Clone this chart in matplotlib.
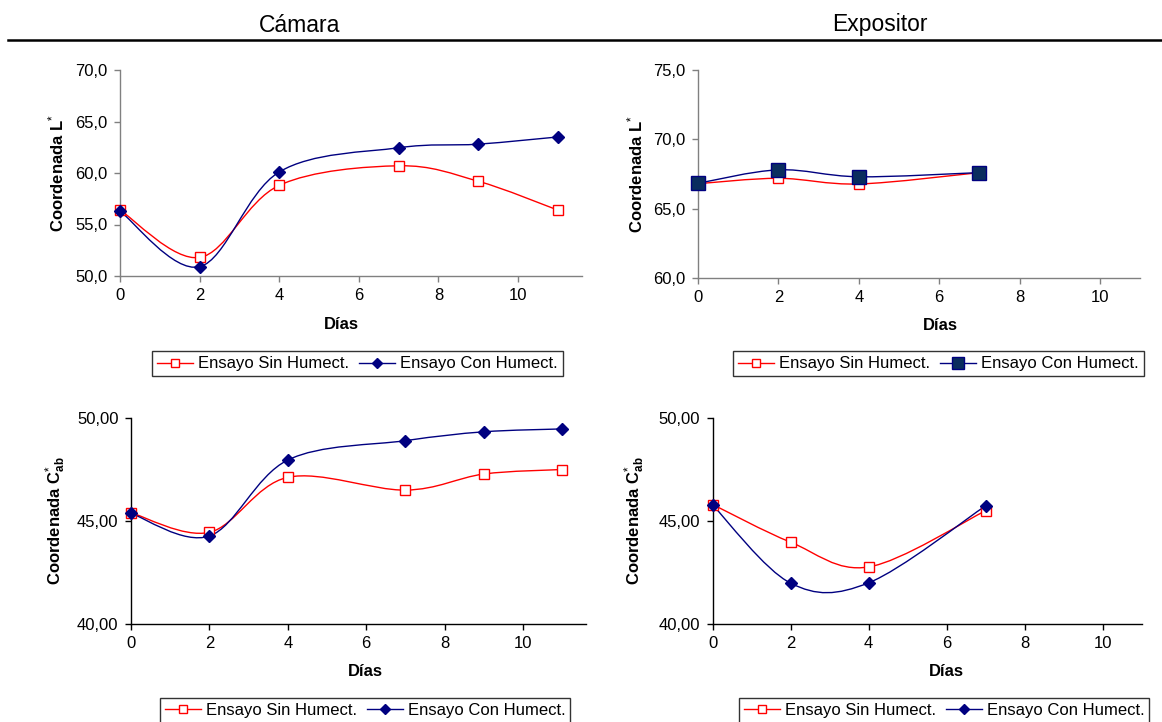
import matplotlib
matplotlib.use("Agg")
import matplotlib.pyplot as plt
from matplotlib.path import Path
from matplotlib.patches import PathPatch
from matplotlib.lines import Line2D
import numpy as np

plt.rcParams['font.family'] = ['Liberation Sans', 'DejaVu Sans']
plt.rcParams['mathtext.fontset'] = 'custom'
plt.rcParams['mathtext.rm'] = 'Liberation Sans'
plt.rcParams['mathtext.bf'] = 'Liberation Sans:bold'
plt.rcParams['mathtext.it'] = 'Liberation Sans:italic'

# ---- data ----
camara_dias = [0, 2, 4, 7, 9, 11]
camara_L_sin = [56.4, 51.8, 58.8, 60.7, 59.2, 56.4]
camara_L_con = [56.3, 50.9, 60.1, 62.45, 62.8, 63.5]
camara_C_sin = [45.4, 44.45, 47.12, 46.5, 47.28, 47.5]
camara_C_con = [45.37, 44.27, 47.96, 48.9, 49.33, 49.47]

expo_dias = [0, 2, 4, 7]
expo_L_sin = [66.8, 67.19, 66.78, 67.6]
expo_L_con = [66.83, 67.8, 67.3, 67.6]
expo_C_sin = [45.8, 43.97, 42.77, 45.5]
expo_C_con = [45.77, 41.98, 42.0, 45.74]

titles = ["Cámara", "Expositor"]
legend_labels = ["Ensayo Sin Humect.", "Ensayo Con Humect."]
xticks = [0, 2, 4, 6, 8, 10]
yticks_L_cam = [50.0, 55.0, 60.0, 65.0, 70.0]
yticks_L_exp = [60.0, 65.0, 70.0, 75.0]
yticks_C = [40.0, 45.0, 50.0]

RED = '#FF0000'
NAVY = '#000080'
DARKSQ = '#0A2D5E'

W, H = 1162, 722
fig = plt.figure(figsize=(W / 100, H / 100), dpi=100)


def smooth_path(x, y):
    pts = np.column_stack([x, y]).astype(float)
    n = len(pts)
    verts = [pts[0]]
    codes = [Path.MOVETO]
    for i in range(n - 1):
        p0 = pts[i - 1] if i > 0 else pts[i]
        p1 = pts[i]
        p2 = pts[i + 1]
        p3 = pts[i + 2] if i + 2 < n else pts[i + 1]
        c1 = p1 + (p2 - p0) / 6.0
        c2 = p2 - (p3 - p1) / 6.0
        verts += [c1, c2, p2]
        codes += [Path.CURVE4] * 3
    return Path(verts, codes)


def make_ax(px_left, px_right, px_top, px_bottom):
    return fig.add_axes([px_left / W, 1 - px_bottom / H,
                         (px_right - px_left) / W, (px_bottom - px_top) / H])


def style_ax(ax, xlim, ylim, yticks, yfmt, ylabel, spine_color,
             ylab_x, xlab_x, xlab_y):
    ax.set_xlim(*xlim)
    ax.set_ylim(*ylim)
    ax.set_xticks(xticks)
    ax.set_xticklabels([str(t) for t in xticks])
    ax.set_yticks(yticks)
    ax.set_yticklabels([yfmt.format(v).replace('.', ',') for v in yticks])
    for s in ['top', 'right']:
        ax.spines[s].set_visible(False)
    for s in ['left', 'bottom']:
        ax.spines[s].set_color(spine_color)
        ax.spines[s].set_linewidth(1.0)
    ax.tick_params(direction='out', length=4, width=1, color=spine_color,
                   labelsize=12, pad=5)
    ax.set_xlabel("Días", fontsize=12, fontweight='bold')
    ax.set_ylabel(ylabel, fontsize=12, fontweight='bold')
    ax.yaxis.set_label_coords(ylab_x, 0.5)
    ax.xaxis.set_label_coords(xlab_x, xlab_y)
    for sp in ax.spines.values():
        sp.set_clip_on(False)


def draw_series(ax, x, y, color, marker, ms, mfc, mec):
    ax.add_patch(PathPatch(smooth_path(x, y), facecolor='none',
                           edgecolor=color, lw=1.0, clip_on=False, zorder=2))
    ax.plot(x, y, linestyle='none', marker=marker, markersize=ms,
            markerfacecolor=mfc, markeredgecolor=mec, markeredgewidth=1.0,
            clip_on=False, zorder=3)
    return Line2D([], [], color=color, lw=1.0, marker=marker, markersize=ms * 0.85,
                  markerfacecolor=mfc, markeredgecolor=mec, markeredgewidth=1.0)


def add_legend(handles, cx, cy):
    leg = fig.legend(handles, legend_labels, loc='center',
                     bbox_to_anchor=(cx / W, 1 - cy / H), ncol=2,
                     fontsize=12, frameon=True, fancybox=False,
                     edgecolor='black', handlelength=2.15, handletextpad=0.3,
                     columnspacing=0.6, borderpad=0.3, borderaxespad=0)
    leg.get_frame().set_linewidth(1.0)


# ---- Panel 1: Cámara L* ----
ax1 = make_ax(120, 581.7, 70, 276)
h1 = draw_series(ax1, camara_dias, camara_L_sin, RED, 's', 7, 'white', RED)
h2 = draw_series(ax1, camara_dias, camara_L_con, NAVY, 'D', 6, NAVY, NAVY)
style_ax(ax1, (0, 11.6), (50, 70), yticks_L_cam, "{:.1f}", r"Coordenada L$^{*}$",
         '#808080', -0.117, 0.48, -0.199)
add_legend([h1, h2], 357.5, 364)

# ---- Panel 2: Expositor L* ----
ax2 = make_ax(698, 1140.2, 70, 278)
h1 = draw_series(ax2, expo_dias, expo_L_sin, RED, 's', 7, 'white', RED)
h2 = draw_series(ax2, expo_dias, expo_L_con, NAVY, 's', 9.5, DARKSQ, NAVY)
style_ax(ax2, (0, 11), (60, 75), yticks_L_exp, "{:.1f}", r"Coordenada L$^{*}$",
         '#808080', -0.118, 0.547, -0.192)
add_legend([h1, h2], 938.5, 364)

# ---- Panel 3: Cámara C*ab ----
ax3 = make_ax(131, 585.7, 418, 624)
h1 = draw_series(ax3, camara_dias, camara_C_sin, RED, 's', 7, 'white', RED)
h2 = draw_series(ax3, camara_dias, camara_C_con, NAVY, 'D', 6, NAVY, NAVY)
style_ax(ax3, (0, 11.6), (40, 50), yticks_C, "{:.2f}",
         r"Coordenada $\mathbf{C}^{*}_{\mathbf{ab}}$",
         'black', -0.139, 0.515, -0.194)
add_legend([h1, h2], 365, 710)

# ---- Panel 4: Expositor C*ab ----
ax4 = make_ax(712.7, 1141.7, 418, 624)
h1 = draw_series(ax4, expo_dias, expo_C_sin, RED, 's', 7, 'white', RED)
h2 = draw_series(ax4, expo_dias, expo_C_con, NAVY, 'D', 6, NAVY, NAVY)
style_ax(ax4, (0, 11), (40, 50), yticks_C, "{:.2f}",
         r"Coordenada $\mathbf{C}^{*}_{\mathbf{ab}}$",
         'black', -0.152, 0.545, -0.194)
add_legend([h1, h2], 944, 710)

# ---- headers ----
fig.text(300 / W, 1 - 25 / H, titles[0], ha='center', va='center', fontsize=16.5)
fig.text(880 / W, 1 - 25 / H, titles[1], ha='center', va='center', fontsize=16.5)
fig.add_artist(Line2D([8 / W, 1.0], [1 - 40 / H, 1 - 40 / H], color='black',
                      lw=1.8, transform=fig.transFigure))

fig.savefig("out.png", dpi=100)
